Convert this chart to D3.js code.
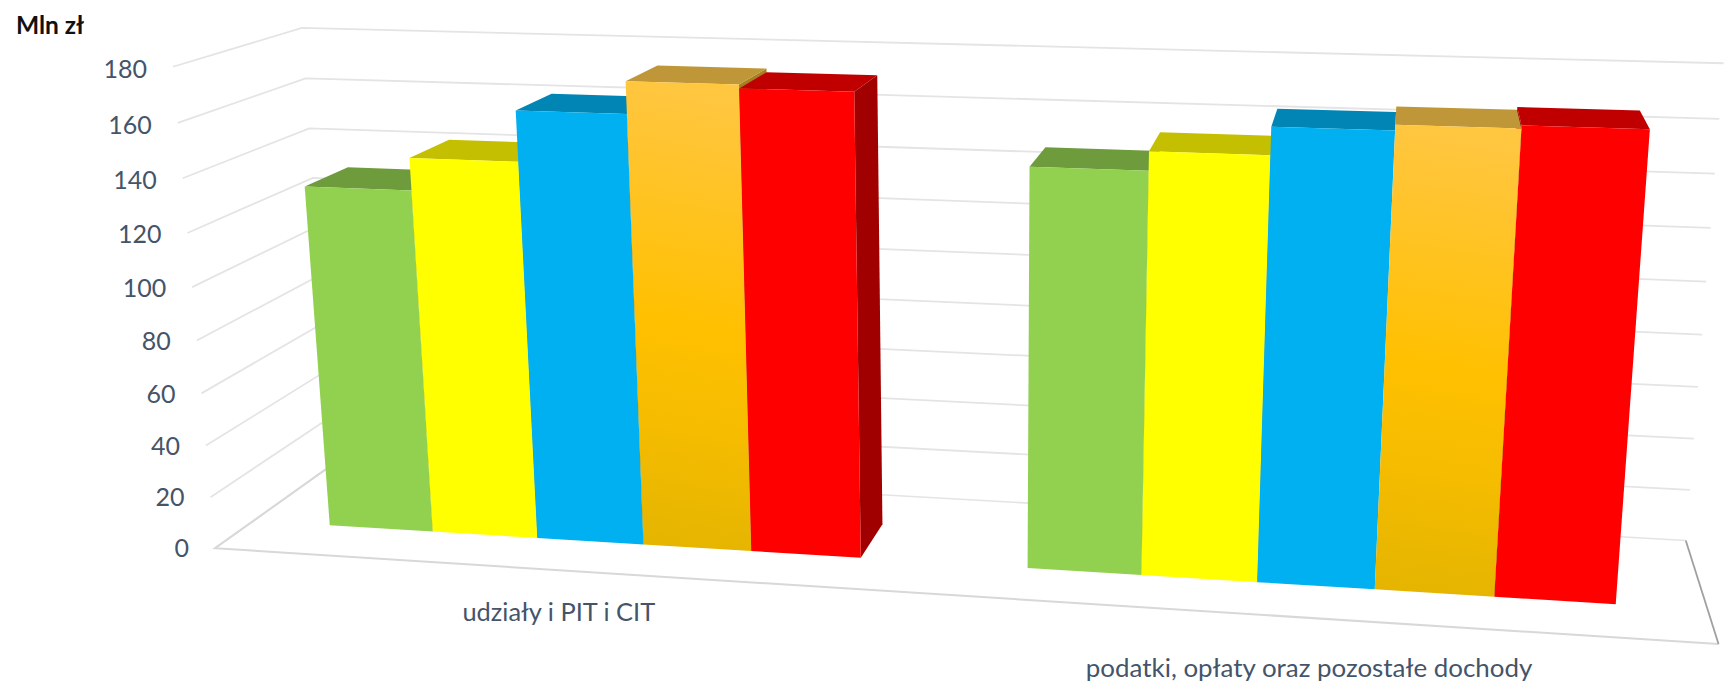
<!DOCTYPE html>
<html><head><meta charset="utf-8">
<script src="https://cdnjs.cloudflare.com/ajax/libs/d3/7.8.5/d3.min.js"></script>
<style>html,body{margin:0;padding:0;background:#fff;overflow:hidden}svg{display:block}</style>
</head><body><svg id="c" width="1730" height="691"></svg>
<script>
const categories = ["udziały i PIT i CIT", "podatki, opłaty oraz pozostałe dochody"];
const seriesNames = ["s1", "s2", "s3", "s4", "s5"];
const categoryOneValues = [131.8, 143.8, 162.5, 174.2, 172.8];
const categoryTwoValues = [148.2, 155, 164.8, 166.8, 167.8];
const tickValues = [0, 20, 40, 60, 80, 100, 120, 140, 160, 180];
const frontColors = ["#92D050", "#FFFF00", "#00B0F0", "url(#orange)", "#FF0000"];
const topColors = ["#6E9C3C", "#C4BF00", "#0085B5", "#BF9738", "#C00000"];
const sideColors = ["#5F8A33", "#A8A300", "#00739C", "#A67F1F", "#A00000"];
const valuesByCategory = [categoryOneValues, categoryTwoValues];
const categoryLabelOffsets = [[-3, 51], [-3, 58.5]];

// camera calibration of the chart box: [u, v, t] -> [sx, sy]
const calibration = [
  [[0,0,0],[216,548]],[[1,0,0],[1718.6,644]],[[1,1,0],[1685,540]],[[0,1,0],[333,464]],
  [[0,0,1],[173,67]],[[0,1,1],[302,28]],[[1,1,1],[1723,63]],
  [[0,0,100/180],[191,287]],[[1,1,100/180],[1707,282]],[[0,1,140/180],[310,128]],[[1,1,40/180],[1694.5,439]]
];
function solve(A,b){const n=b.length,M=A.map((r,i)=>[...r,b[i]]);
  for(let i=0;i<n;i++){let p=i;for(let k=i+1;k<n;k++)if(Math.abs(M[k][i])>Math.abs(M[p][i]))p=k;
    [M[i],M[p]]=[M[p],M[i]];
    for(let k=0;k<n;k++)if(k!==i){const f=M[k][i]/M[i][i];for(let j=i;j<=n;j++)M[k][j]-=f*M[i][j];}}
  return M.map((r,i)=>r[n]/r[i]);}
const rows=[],rhs=[];
calibration.forEach(([[u,v,t],[x,y]])=>{
  rows.push([1,u,v,t,0,0,0,0,-x*u,-x*v,-x*t]);rhs.push(x);
  rows.push([0,0,0,0,1,u,v,t,-y*u,-y*v,-y*t]);rhs.push(y);});
const AtA=d3.range(11).map(i=>d3.range(11).map(j=>d3.sum(rows,r=>r[i]*r[j])));
const Atb=d3.range(11).map(i=>d3.sum(rows,(r,k)=>r[i]*rhs[k]));
const P=solve(AtA,Atb);
function project(u,v,t){const w=1+P[8]*u+P[9]*v+P[10]*t;
  return [(P[0]+P[1]*u+P[2]*v+P[3]*t)/w,(P[4]+P[5]*u+P[6]*v+P[7]*t)/w];}

const y=d3.scaleLinear().domain([0,180]).range([0,1]);
const xCat=d3.scaleBand().domain(categories).range([0,1]).paddingInner(0.23).paddingOuter(0.115);
const xSer=d3.scaleBand().domain(seriesNames).range([0,xCat.bandwidth()]);
const depth=d3.scaleBand().domain(["d"]).range([0,0.975]).paddingInner(0).paddingOuter(0.836);
const vFront=depth("d"),vBack=vFront+depth.bandwidth();

const svg=d3.select("#c");
const grad=svg.append("defs").append("linearGradient").attr("id","orange")
  .attr("x1",0.05).attr("y1",0).attr("x2",0).attr("y2",1);
[[0,"#FFC640"],[0.5,"#FFC000"],[0.72,"#F5BC00"],[1,"#E3B400"]].forEach(([o,c])=>grad.append("stop").attr("offset",o).attr("stop-color",c));
const line=d3.line();
const poly=d=>line(d)+"Z";

// frame
const gGrid=svg.append("g").attr("fill","none");
tickValues.forEach(tv=>{
  const t=y(tv);
  gGrid.append("path").attr("d",line([project(0,0,t),project(0,1,t),project(1,1,t)]))
    .attr("stroke","#E4E4E7").attr("stroke-width",tv===0?1.6:1.8);
});
gGrid.append("path").attr("d",line([project(0,1,0),project(0,0,0),project(1,0,0)])).attr("stroke","#D8D8DB").attr("stroke-width",2);
gGrid.append("path").attr("d",line([project(1,1,0),project(1,0,0)])).attr("stroke","#A0A0A0").attr("stroke-width",1.8);

// tick labels
const textColor="#44546A";
const gTicks=svg.append("g").attr("font-family","Lato, sans-serif").attr("font-size",25).attr("fill",textColor).attr("text-anchor","end");
tickValues.forEach(tv=>{
  const [px,py]=project(0,0,y(tv));
  gTicks.append("text").attr("x",px-26).attr("y",py+9+2*y(tv)).text(d3.format("d")(tv));
});

// bars: farthest from the viewing axis first
const centerU=0.7885;
const bars=[];
categories.forEach((c,ci)=>seriesNames.forEach((s,si)=>{
  const u0=xCat(c)+xSer(s),u1=u0+xSer.bandwidth();
  bars.push({u0,u1,t:y(valuesByCategory[ci][si]),si,ci,dist:Math.abs((u0+u1)/2-centerU)});
}));
bars.sort((a,b)=>d3.descending(a.dist,b.dist));
const gBars=svg.append("g");
bars.forEach(b=>{
  const g=gBars.append("g");
  const {u0,u1,t,si}=b;
  if(u1<centerU-0.001) g.append("path").attr("d",poly([project(u1,vFront,0),project(u1,vBack,0),project(u1,vBack,t),project(u1,vFront,t)])).attr("fill",sideColors[si]);
  if(u0>centerU+0.001) g.append("path").attr("d",poly([project(u0,vFront,0),project(u0,vBack,0),project(u0,vBack,t),project(u0,vFront,t)])).attr("fill",sideColors[si]);
  g.append("path").attr("d",poly([project(u0,vFront,t),project(u0,vBack,t),project(u1,vBack,t),project(u1,vFront,t)])).attr("fill",topColors[si]);
  g.append("path").attr("d",poly([project(u0,vFront,0),project(u1,vFront,0),project(u1,vFront,t),project(u0,vFront,t)])).attr("fill",frontColors[si]);
});

// category labels
const gCat=svg.append("g").attr("font-family","Lato, sans-serif").attr("fill",textColor).attr("text-anchor","middle");
categories.forEach((c,i)=>{
  const [px,py]=project(xCat(c)+xCat.bandwidth()/2,0,0);
  gCat.append("text").attr("font-size",i?25.9:25.4).attr("x",px+categoryLabelOffsets[i][0]).attr("y",py+categoryLabelOffsets[i][1]).text(c);
});

svg.append("text").attr("x",16).attr("y",34).attr("font-family","Lato, sans-serif").attr("font-weight",700).attr("font-size",24.5).attr("fill","#111").text("Mln zł");
</script></body></html>
